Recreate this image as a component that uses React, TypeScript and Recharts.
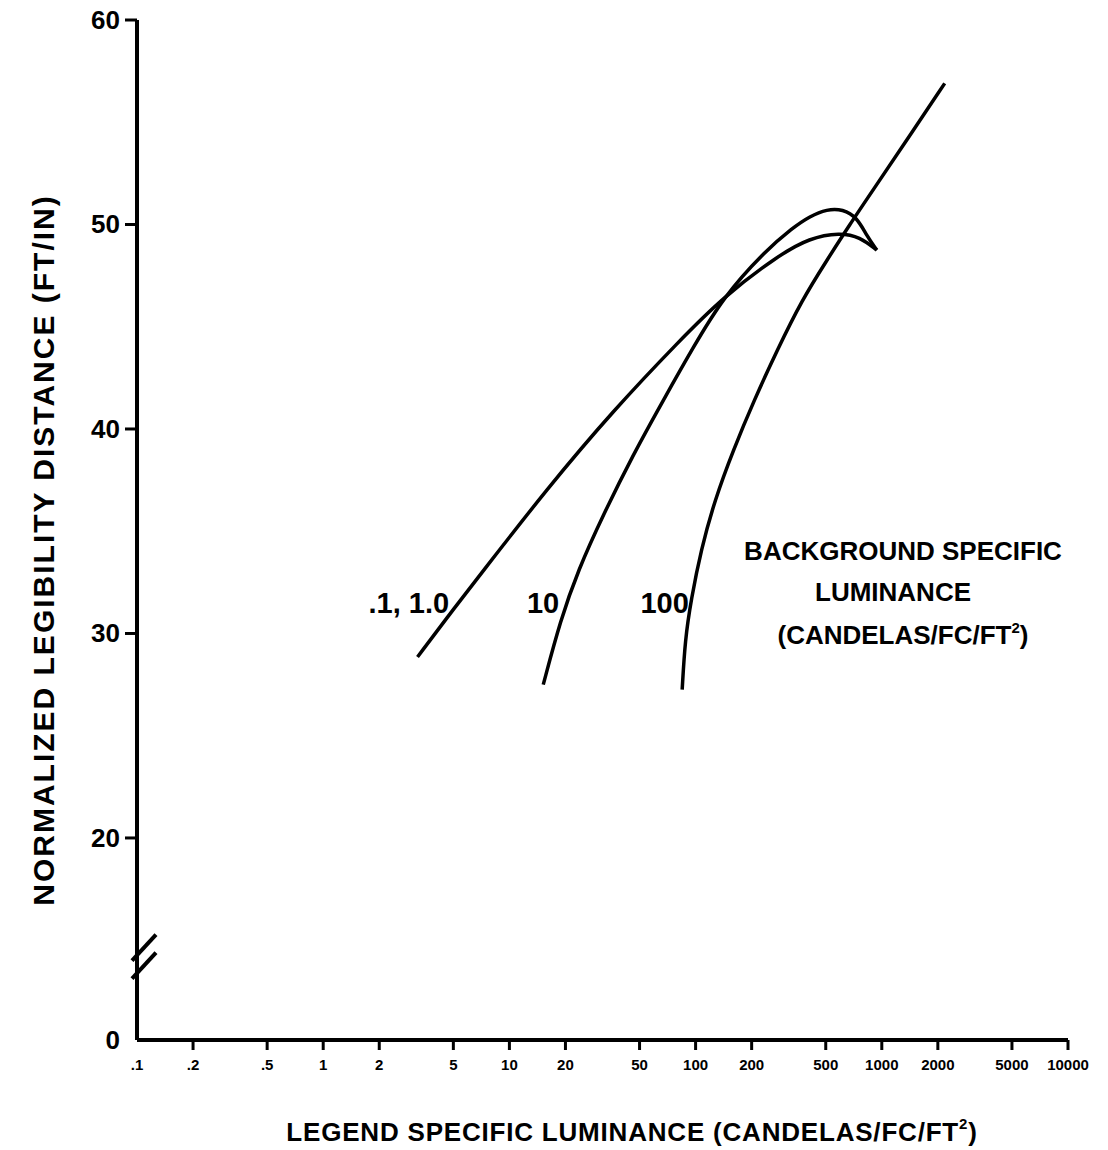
import { LineChart, Line, XAxis, YAxis, ReferenceDot, Label } from "recharts";

// axis setup
const Y_BOTTOM = 10.12; // bottom of the broken axis, labelled "0"
const xTicks = [0.1, 0.2, 0.5, 1, 2, 5, 10, 20, 50, 100, 200, 500, 1000, 2000, 5000, 10000];
const xTickLabels = [".1", ".2", ".5", "1", "2", "5", "10", "20", "50", "100", "200", "500", "1000", "2000", "5000", "10000"];
const yTicks = [Y_BOTTOM, 20, 30, 40, 50, 60];
const yTickLabels = ["0", "20", "30", "40", "50", "60"];

// background .1, 1.0
const lowLum = [3.21, 4.83, 7.0, 16, 36.1, 82.6, 141, 274, 411, 596, 762, 940];
const lowDist = [28.85, 31.0, 32.9, 37.1, 40.9, 44.35, 46.45, 48.45, 49.35, 49.6, 49.4, 48.75];

// background 10
const midLum = [15.2, 18.8, 23.4, 31.9, 46.2, 67, 97.1, 141, 230, 333, 411, 507, 618, 735, 831, 940];
const midDist = [27.5, 30.65, 33.1, 35.8, 38.75, 41.4, 44.0, 46.45, 48.6, 49.85, 50.4, 50.75, 50.75, 50.35, 49.45, 48.75];

// background 100
const highLum = [84.7, 87.8, 94.6, 107, 127, 159, 206, 274, 372, 507, 673, 884, 1379, 2177];
const highDist = [27.25, 29.7, 31.65, 34.1, 36.55, 38.95, 41.4, 43.85, 46.3, 48.25, 50.0, 51.6, 54.2, 56.9];

const toPoints = (lum: number[], dist: number[]) => lum.map((x, i) => ({ x, y: dist[i] }));

const FONT = "'Liberation Sans', Arial, sans-serif";

function XTick({ x, y, payload }: any) {
  const i = xTicks.indexOf(payload.value);
  return (
    <g>
      {i > 0 && <line x1={x} y1={y} x2={x} y2={y + 10} stroke="#000" strokeWidth={3} />}
      <text x={x} y={y + 30} textAnchor="middle" fontSize={15} fontWeight="bold" fontFamily={FONT} fill="#000">
        {xTickLabels[i]}
      </text>
    </g>
  );
}

function YTick({ x, y, payload }: any) {
  const i = yTicks.indexOf(payload.value);
  return (
    <g>
      {i > 0 && <line x1={x} y1={y} x2={x - 12} y2={y} stroke="#000" strokeWidth={3} />}
      <text x={x - 17} y={y + 9} textAnchor="end" fontSize={26} fontWeight="bold" fontFamily={FONT} fill="#000">
        {yTickLabels[i]}
      </text>
    </g>
  );
}

function AxisBreak({ cx, cy }: any) {
  return (
    <g stroke="#000" strokeWidth={4}>
      <line x1={cx - 5} y1={cy + 4} x2={cx + 19} y2={cy - 22} />
      <line x1={cx - 5} y1={cy + 22} x2={cx + 19} y2={cy - 4} />
    </g>
  );
}

function CurveTag({ cx, cy, text }: any) {
  return (
    <text x={cx} y={cy} textAnchor="end" fontSize={29} fontWeight="bold" fontFamily={FONT} fill="#000">
      {text}
    </text>
  );
}

function BackgroundNote({ cx, cy }: any) {
  return (
    <g fontSize={26} fontWeight="bold" fontFamily={FONT} fill="#000" textAnchor="middle">
      <text x={cx} y={cy}>BACKGROUND  SPECIFIC</text>
      <text x={cx - 10} y={cy + 41}>LUMINANCE</text>
      <text x={cx} y={cy + 84}>
        (CANDELAS/FC/FT<tspan dy={-11} fontSize={15}>2</tspan>
        <tspan dy={11}>)</tspan>
      </text>
    </g>
  );
}

export default function App() {
  return (
    <div style={{ background: "#fff", width: 1108, height: 1150 }}>
      <style>{"body{margin:0}"}</style>
      <LineChart width={1108} height={1150} margin={{ top: 20, right: 40, left: 0, bottom: 0 }}>
        <XAxis
          type="number"
          dataKey="x"
          scale="log"
          domain={[0.1, 10000]}
          ticks={xTicks}
          allowDataOverflow
          height={110}
          tickSize={0}
          tickMargin={0}
          tickLine={false}
          axisLine={{ stroke: "#000", strokeWidth: 4 }}
          tick={<XTick />}
          interval={0}
        >
          <Label
            content={() => (
              <text
                x={632}
                y={1141}
                textAnchor="middle"
                fontSize={26}
                letterSpacing={0.8}
                fontWeight="bold"
                fontFamily={FONT}
                fill="#000"
              >
                LEGEND  SPECIFIC  LUMINANCE  (CANDELAS/FC/FT<tspan dy={-12} fontSize={15}>2</tspan>
                <tspan dy={12}>)</tspan>
              </text>
            )}
          />
        </XAxis>
        <YAxis
          type="number"
          dataKey="y"
          domain={[Y_BOTTOM, 60]}
          ticks={yTicks}
          allowDataOverflow
          width={137}
          tickSize={0}
          tickMargin={0}
          tickLine={false}
          axisLine={{ stroke: "#000", strokeWidth: 4 }}
          tick={<YTick />}
          interval={0}
        >
          <Label
            content={() => (
              <text
                x={54}
                y={550}
                transform="rotate(-90 54 550)"
                textAnchor="middle"
                fontSize={30}
                letterSpacing={2}
                fontWeight="bold"
                fontFamily={FONT}
                fill="#000"
              >
                NORMALIZED  LEGIBILITY  DISTANCE  (FT/IN)
              </text>
            )}
          />
        </YAxis>
        <Line data={toPoints(lowLum, lowDist)} dataKey="y" type="basis" stroke="#000" strokeWidth={3.5} dot={false} isAnimationActive={false} />
        <Line data={toPoints(midLum, midDist)} dataKey="y" type="basis" stroke="#000" strokeWidth={3.5} dot={false} isAnimationActive={false} />
        <Line data={toPoints(highLum, highDist)} dataKey="y" type="basis" stroke="#000" strokeWidth={3.5} dot={false} isAnimationActive={false} />
        <ReferenceDot x={0.1} y={14.2} ifOverflow="visible" shape={<AxisBreak />} />
        <ReferenceDot x={4.75} y={31.0} ifOverflow="visible" shape={<CurveTag text=".1, 1.0" />} />
        <ReferenceDot x={18.5} y={31.0} ifOverflow="visible" shape={<CurveTag text="10" />} />
        <ReferenceDot x={92} y={31.0} ifOverflow="visible" shape={<CurveTag text="100" />} />
        <ReferenceDot x={1300} y={33.6} ifOverflow="visible" shape={<BackgroundNote />} />
      </LineChart>
    </div>
  );
}
